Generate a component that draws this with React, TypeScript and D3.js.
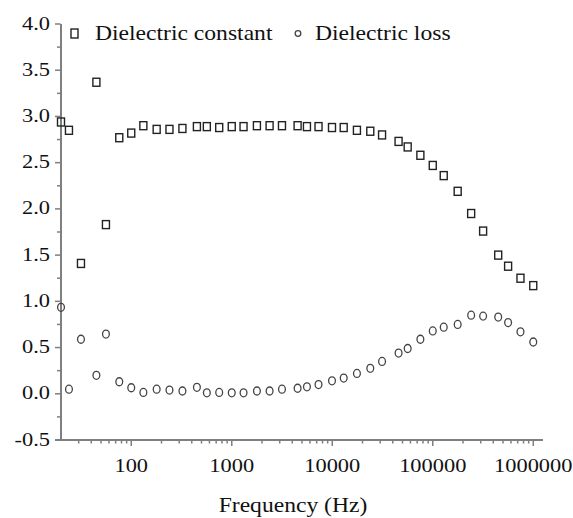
import { useEffect, useRef } from 'react';
import * as d3 from 'd3';

// frequency (Hz) of each measurement
const frequencies = [
  20, 24, 31.6, 45, 56, 76, 100, 132, 179, 240, 323, 450, 565, 750, 1000, 1310, 1780, 2380, 3160,
  4520, 5600, 7300, 9940, 13000, 17600, 23900, 31300, 45700, 56300, 75300, 100000, 128600, 177000,
  241000, 317000, 448000, 562000, 746000, 1000000,
];
const dielectricConstant = [
  2.94, 2.85, 1.41, 3.37, 1.83, 2.77, 2.82, 2.9, 2.86, 2.86, 2.87, 2.89, 2.89, 2.88, 2.89, 2.89, 2.9,
  2.9, 2.9, 2.9, 2.89, 2.89, 2.88, 2.88, 2.85, 2.84, 2.8, 2.73, 2.67, 2.58, 2.47, 2.36, 2.19, 1.95,
  1.76, 1.5, 1.38, 1.25, 1.17,
];
const dielectricLoss = [
  0.935, 0.05, 0.59, 0.2, 0.646, 0.13, 0.065, 0.015, 0.05, 0.04, 0.03, 0.07, 0.01, 0.015, 0.01, 0.01,
  0.03, 0.03, 0.05, 0.06, 0.075, 0.1, 0.14, 0.17, 0.22, 0.275, 0.35, 0.44, 0.49, 0.59, 0.68, 0.72,
  0.75, 0.85, 0.84, 0.83, 0.77, 0.67, 0.56,
];
const yTicks = [-0.5, 0, 0.5, 1, 1.5, 2, 2.5, 3, 3.5, 4];
const xTicks = [100, 1000, 10000, 100000, 1000000];
const seriesNames = ['Dielectric constant', 'Dielectric loss'];

const width = 573;
const height = 518;
const font = '"Liberation Serif", "Times New Roman", serif';
const stretch = 1.18; // the source text is drawn a bit wide

export default function App() {
  const svgRef = useRef<SVGSVGElement>(null);

  useEffect(() => {
    if (!svgRef.current) return;
    const svg = d3.select(svgRef.current);
    svg.selectAll('*').remove();

    const x = d3.scaleLog().domain([20, 1.25e6]).range([61, 543]);
    const y = d3.scaleLinear().domain([-0.5, 4]).range([440, 24]);
    const axisColor = '#7f7f7f';

    const addText = (px: number, py: number, txt: string, size: number, anchor = 'start') =>
      svg.append('text')
        .attr('transform', `translate(${px},${py}) scale(${stretch},1)`)
        .attr('text-anchor', anchor)
        .attr('font-family', font)
        .attr('font-size', size)
        .attr('fill', '#111')
        .text(txt);

    // y axis
    svg.append('line')
      .attr('x1', x.range()[0]).attr('x2', x.range()[0])
      .attr('y1', y(4)).attr('y2', y(-0.5))
      .attr('stroke', axisColor).attr('stroke-width', 2);

    const yMinor = d3.range(-0.25, 4, 0.5);
    svg.selectAll('.ytick')
      .data([...yTicks.map(v => ({ v, len: 6 })), ...yMinor.map(v => ({ v, len: 4 }))])
      .enter().append('line')
      .attr('x1', x.range()[0] - 0.5)
      .attr('x2', d => x.range()[0] - d.len)
      .attr('y1', d => y(d.v)).attr('y2', d => y(d.v))
      .attr('stroke', axisColor).attr('stroke-width', 1.5);

    yTicks.forEach(v => addText(50, y(v) + 5.5, v.toFixed(1), 19, 'end'));

    // x axis
    svg.append('line')
      .attr('x1', x.range()[0] - 6).attr('x2', x.range()[1])
      .attr('y1', y(-0.5)).attr('y2', y(-0.5))
      .attr('stroke', axisColor).attr('stroke-width', 2);

    const xMinor: number[] = [];
    for (let e = 1; e <= 6; e++) {
      for (let k = 2; k <= 9; k++) {
        const v = k * Math.pow(10, e);
        if (v > 20 && v < 1.25e6) xMinor.push(v);
      }
    }
    svg.selectAll('.xtick')
      .data([...xTicks.map(v => ({ v, len: 6 })), ...xMinor.map(v => ({ v, len: 3.5 }))])
      .enter().append('line')
      .attr('x1', d => x(d.v)).attr('x2', d => x(d.v))
      .attr('y1', y(-0.5)).attr('y2', d => y(-0.5) + d.len)
      .attr('stroke', axisColor).attr('stroke-width', 1.5);

    xTicks.forEach(v => addText(x(v), 472, String(v), 19, 'middle'));
    addText(293, 512, 'Frequency (Hz)', 20, 'middle');

    // points
    const data = frequencies.map((f, i) => ({ f, c: dielectricConstant[i], l: dielectricLoss[i] }));

    svg.selectAll('.sq')
      .data(data)
      .enter().append('rect')
      .attr('x', d => x(d.f) - 3.5)
      .attr('y', d => y(d.c) - 4)
      .attr('width', 7).attr('height', 8)
      .attr('fill', 'none')
      .attr('stroke', '#222').attr('stroke-width', 1.4);

    svg.selectAll('.ci')
      .data(data)
      .enter().append('ellipse')
      .attr('cx', d => x(d.f))
      .attr('cy', d => y(d.l))
      .attr('rx', 3.4).attr('ry', 4)
      .attr('fill', 'none')
      .attr('stroke', '#444').attr('stroke-width', 1.3);

    // legend
    svg.append('rect')
      .attr('x', 71).attr('y', 29).attr('width', 7).attr('height', 9)
      .attr('fill', 'none').attr('stroke', '#222').attr('stroke-width', 1.4);
    addText(95, 40, seriesNames[0], 20);
    svg.append('circle')
      .attr('cx', 298).attr('cy', 33.5).attr('r', 2.8)
      .attr('fill', 'none').attr('stroke', '#444').attr('stroke-width', 1.3);
    addText(315, 40, seriesNames[1], 20);
  }, []);

  return (
    <svg
      ref={svgRef}
      width={width}
      height={height}
      style={{ position: 'absolute', left: 0, top: 0, background: '#fff' }}
    />
  );
}
